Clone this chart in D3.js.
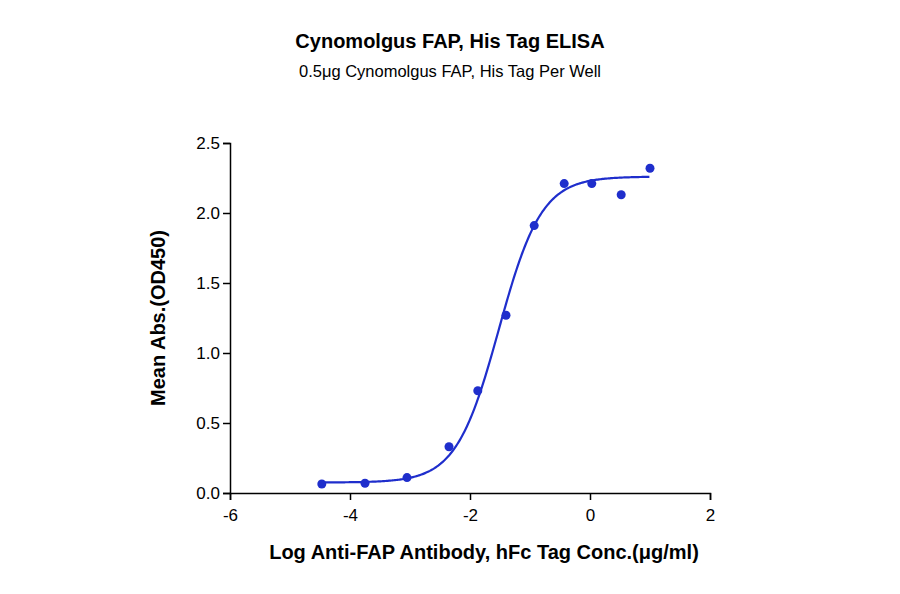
<!DOCTYPE html>
<html><head><meta charset="utf-8">
<script src="https://cdn.jsdelivr.net/npm/d3@7"></script>
<style>body{margin:0;background:#fff;font-family:"Liberation Sans",Arial,sans-serif}</style>
</head><body><svg id="chart" width="900" height="594"></svg>
<script>
// measured points
var logConc = [-4.47, -3.75, -3.05, -2.35, -1.87, -1.40, -0.93, -0.43, 0.03, 0.52, 1.00];
var meanAbs = [0.064, 0.07, 0.11, 0.33, 0.73, 1.27, 1.91, 2.21, 2.21, 2.13, 2.32];
var xTicks = [-6, -4, -2, 0, 2];
var yTicks = [0.0, 0.5, 1.0, 1.5, 2.0, 2.5];
// 4PL fit params
var fitBottom = 0.075, fitTop = 2.26, fitLogEC50 = -1.52, fitHill = 1.22;

var svg = d3.select("#chart");
var x = d3.scaleLinear().domain([-6, 2]).range([230, 710]);
var y = d3.scaleLinear().domain([0, 2.5]).range([493, 143]);
var blue = "#1f2ecc";

svg.append("g").attr("transform", "translate(0,493)")
  .call(d3.axisBottom(x).tickValues(xTicks).tickSize(7).tickFormat(d => String(d)))
  .call(g => g.selectAll("text").attr("font-size", 17).attr("font-family", "Liberation Sans").attr("dy", "1.05em"));
svg.append("g").attr("transform", "translate(230,0)")
  .call(d3.axisLeft(y).tickValues(yTicks).tickSize(7).tickFormat(d3.format(".1f")))
  .call(g => g.selectAll("text").attr("font-size", 17).attr("font-family", "Liberation Sans"));
svg.selectAll(".domain, .tick line").attr("stroke", "#000").attr("stroke-width", 1.5);

var curve = d3.range(-4.47, 1.001, 0.02).map(function(v) {
  return [v, fitBottom + (fitTop - fitBottom) / (1 + Math.pow(10, (fitLogEC50 - v) * fitHill))];
});
svg.append("path").datum(curve)
  .attr("d", d3.line().x(d => x(d[0])).y(d => y(d[1])))
  .attr("fill", "none").attr("stroke", blue).attr("stroke-width", 2.2);

svg.selectAll("circle.pt").data(logConc).enter().append("circle")
  .attr("cx", d => x(d)).attr("cy", (d, i) => y(meanAbs[i])).attr("r", 4.5).attr("fill", blue);

svg.append("text").attr("x", 450).attr("y", 48).attr("text-anchor", "middle")
  .attr("font-size", 20).attr("font-weight", "bold").text("Cynomolgus FAP, His Tag ELISA");
svg.append("text").attr("x", 450).attr("y", 77).attr("text-anchor", "middle")
  .attr("font-size", 16.5).text("0.5μg Cynomolgus FAP, His Tag Per Well");
svg.append("text").attr("transform", "translate(165,318) rotate(-90)").attr("text-anchor", "middle")
  .attr("font-size", 20).attr("font-weight", "bold").text("Mean Abs.(OD450)");
svg.append("text").attr("x", 484).attr("y", 559).attr("text-anchor", "middle")
  .attr("font-size", 20).attr("font-weight", "bold").text("Log Anti-FAP Antibody, hFc Tag Conc.(μg/ml)");
</script></body></html>
